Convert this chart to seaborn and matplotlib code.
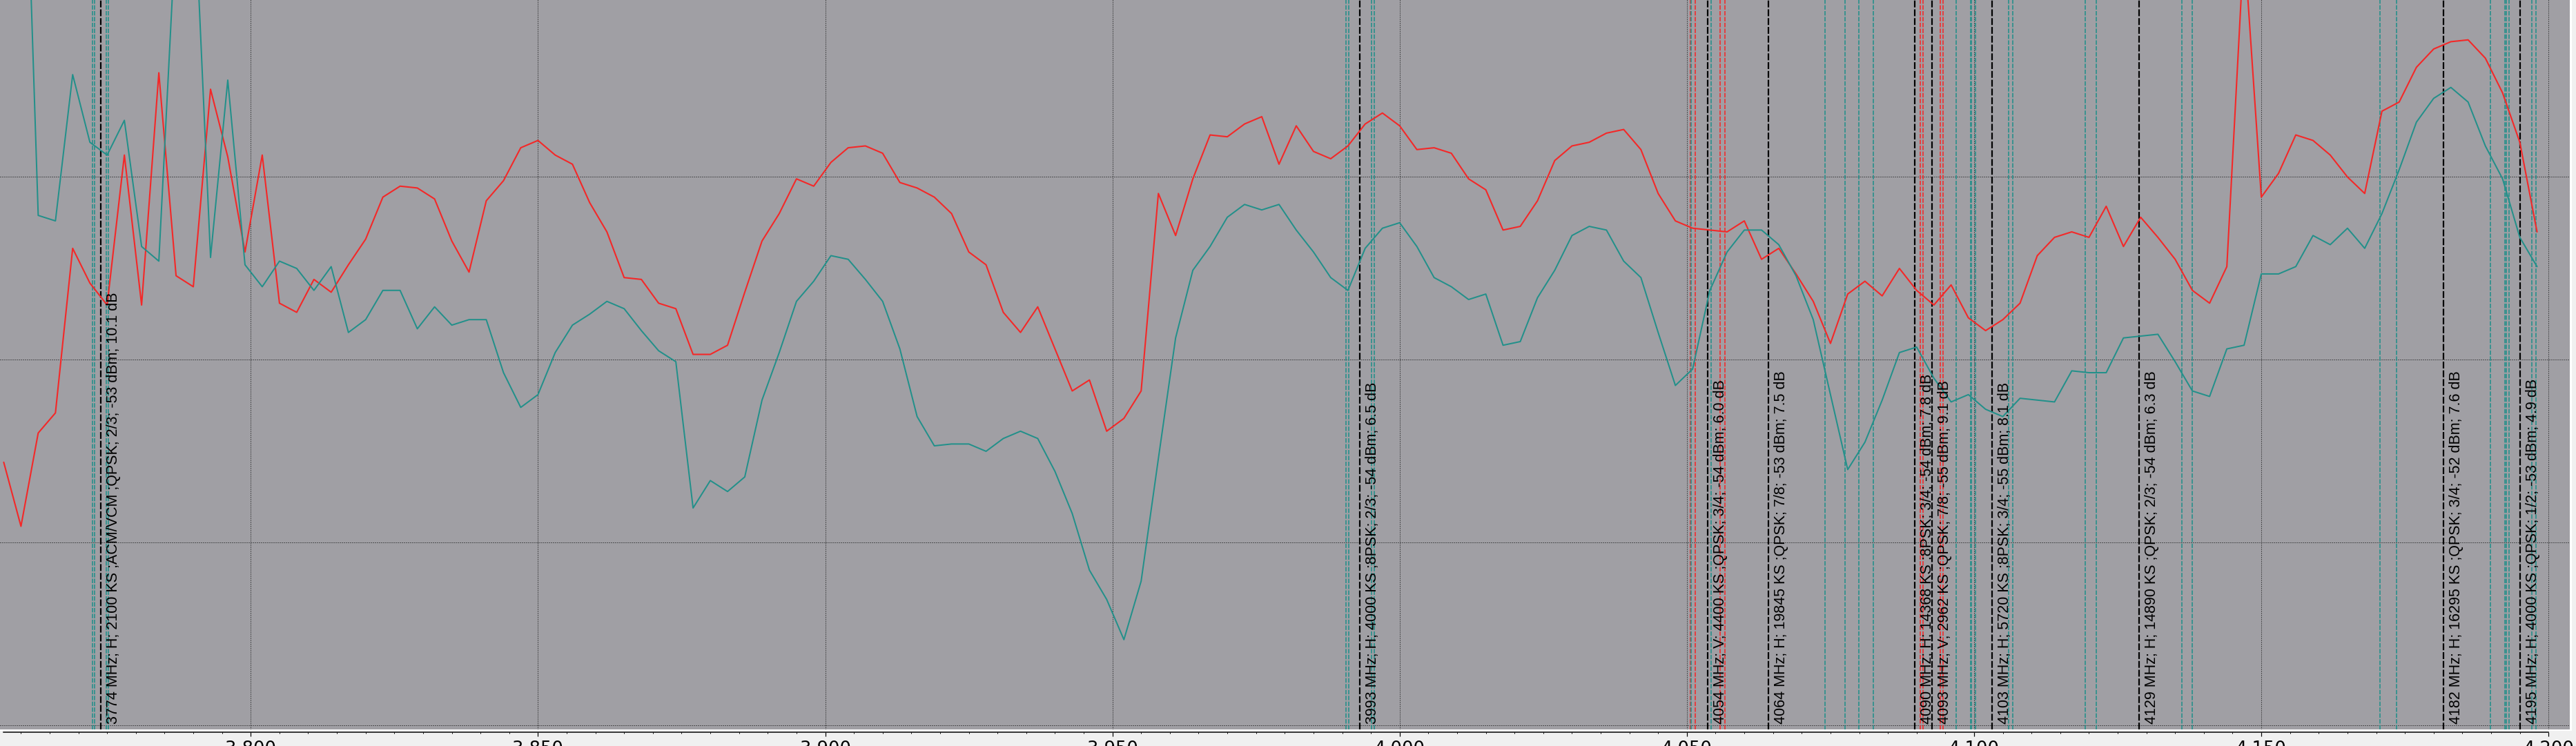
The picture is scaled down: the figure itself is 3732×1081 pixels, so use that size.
import numpy as np
import pandas as pd
import matplotlib
matplotlib.use("Agg")
import matplotlib.pyplot as plt
from matplotlib.patches import Rectangle
from matplotlib.ticker import MultipleLocator, FuncFormatter
import seaborn as sns

# ---------------- data ----------------
# sweep grid (MHz), one sample every 3 MHz
freq_mhz = np.arange(3757, 4199, 3)

# trace 1 (red), dBm
red_dbm = [
    -65.6, -69.1, -64.0, -62.9, -53.9, -55.8, -57.0, -48.8, -57.0, -44.3,
    -55.4, -56.0, -45.2, -48.9, -54.1, -48.8, -56.9, -57.4, -55.6, -56.3,
    -54.8, -53.4, -51.1, -50.5, -50.6, -51.2, -53.5, -55.2, -51.3, -50.2,
    -48.4, -48.0, -48.8, -49.3, -51.4, -53.0, -55.5, -55.6, -56.9, -57.2,
    -59.7, -59.7, -59.2, -56.3, -53.5, -52.0, -50.1, -50.5, -49.2, -48.4,
    -48.3, -48.7, -50.3, -50.6, -51.1, -52.0, -54.1, -54.8, -57.4, -58.5,
    -57.1, -59.4, -61.7, -61.1, -63.9, -63.2, -61.7, -50.9, -53.2, -50.1,
    -47.7, -47.8, -47.1, -46.7, -49.3, -47.2, -48.6, -49.0, -48.3, -47.1,
    -46.5, -47.2, -48.5, -48.4, -48.7, -50.1, -50.7, -52.9, -52.7, -51.3,
    -49.1, -48.3, -48.1, -47.6, -47.4, -48.5, -50.9, -52.4, -52.8, -52.9,
    -53.0, -52.4, -54.5, -53.9, -55.3, -56.8, -59.1, -56.4, -55.7, -56.5,
    -55.0, -56.2, -57.0, -55.9, -57.7, -58.4, -57.8, -56.9, -54.3, -53.3,
    -53.0, -53.3, -51.6, -53.8, -52.2, -53.3, -54.5, -56.2, -56.9, -54.9,
    -37.2, -51.1, -49.8, -47.7, -48.0, -48.8, -50.0, -50.9, -46.4, -45.9,
    -44.0, -43.0, -42.6, -42.5, -43.5, -45.4, -48.1, -53.0,
]

# trace 2 (teal), dBm
teal_dbm = [
    -28.0, -23.0, -52.1, -52.4, -44.4, -48.1, -48.8, -46.9, -53.8, -54.6,
    -36.1, -33.3, -54.4, -44.7, -54.8, -56.0, -54.6, -55.0, -56.2, -54.9,
    -58.5, -57.8, -56.2, -56.2, -58.3, -57.1, -58.1, -57.8, -57.8, -60.7,
    -62.6, -61.9, -59.6, -58.1, -57.5, -56.8, -57.2, -58.4, -59.5, -60.1,
    -68.1, -66.6, -67.2, -66.4, -62.2, -59.6, -56.8, -55.7, -54.3, -54.5,
    -55.6, -56.8, -59.4, -63.1, -64.7, -64.6, -64.6, -65.0, -64.3, -63.9,
    -64.3, -66.1, -68.4, -71.5, -73.1, -75.3, -72.1, -65.4, -58.8, -55.1,
    -53.8, -52.2, -51.5, -51.8, -51.5, -52.9, -54.1, -55.5, -56.2, -53.9,
    -52.8, -52.5, -53.8, -55.5, -56.0, -56.7, -56.4, -59.2, -59.0, -56.6,
    -55.1, -53.2, -52.7, -52.9, -54.6, -55.5, -58.5, -61.4, -60.5, -56.2,
    -54.1, -52.9, -52.9, -53.7, -55.4, -57.8, -61.9, -66.0, -64.5, -62.2,
    -59.6, -59.3, -61.0, -62.3, -61.9, -62.7, -63.1, -62.1, -62.2, -62.3,
    -60.6, -60.7, -60.7, -58.8, -58.7, -58.6, -60.1, -61.7, -62.0, -59.4,
    -59.2, -55.3, -55.3, -54.9, -53.2, -53.7, -52.8, -53.9, -52.0, -49.6,
    -47.0, -45.7, -45.1, -45.9, -48.3, -50.1, -53.3, -54.9,
]

# detected carriers
sig_freq = [3774, 3993, 4054, 4064, 4090, 4093, 4103, 4129, 4182, 4195]
sig_center = [3773.85, 3993.1, 4053.6, 4064.15, 4089.65, 4092.65, 4103.1, 4128.7, 4181.7, 4195.1]
sig_pol = ["H", "H", "V", "H", "H", "V", "H", "H", "H", "H"]
sig_sr_ks = [2100, 4000, 4400, 19845, 14368, 2962, 5720, 14890, 16295, 4000]
sig_mod = ["ACM/VCM ;QPSK", "8PSK", "QPSK", "QPSK", "8PSK", "QPSK", "8PSK", "QPSK", "QPSK", "QPSK"]
sig_fec = ["2/3", "2/3", "3/4", "7/8", "3/4", "7/8", "3/4", "2/3", "3/4", "1/2"]
sig_pwr = [-53, -54, -54, -53, -54, -55, -55, -54, -52, -53]
sig_cn = [10.1, 6.5, 6.0, 7.5, 7.8, 9.1, 8.1, 6.3, 7.6, 4.9]
sig_rolloff = [0.35, 0.25, 0.35, 0.35, 0.35, 0.35, 0.25, 0.25, 0.35, 0.35]

# ---------------- style ----------------
sns.set_style("ticks")
plt.rcParams["font.family"] = ["DejaVu Sans"]

W, H = 3732, 1081
DPI = 100
PX = 72.0 / DPI  # points per pixel

BG = "#a09fa4"
OUT = "#f0f0f0"
RED = "#f42828"
TEAL = "#22908a"

fig = plt.figure(figsize=(W / DPI, H / DPI), dpi=DPI, facecolor=OUT)
ax_w = 3723 / W
ax_h = 1057 / H
ax = fig.add_axes([0, 1 - ax_h, ax_w, ax_h])
ax.set_facecolor(BG)

# white separators around plot area
fig.add_artist(Rectangle((ax_w, 1 - ax_h - 2 / H), 3 / W, ax_h + 2 / H,
                         transform=fig.transFigure, color="white", lw=0, zorder=0))
fig.add_artist(Rectangle((0, 1 - ax_h - 2 / H), ax_w + 3 / W, 2 / H,
                         transform=fig.transFigure, color="white", lw=0, zorder=0))

# traces
df = pd.DataFrame({"freq": freq_mhz, "red": red_dbm, "teal": teal_dbm})
sns.lineplot(data=df, x="freq", y="red", color=RED, linewidth=2.0 * PX * 1.05,
             ax=ax, zorder=4, legend=False)
sns.lineplot(data=df, x="freq", y="teal", color=TEAL, linewidth=2.0 * PX,
             ax=ax, zorder=4, legend=False)

# carrier markers
for c, pol, sr, a in zip(sig_center, sig_pol, sig_sr_ks, sig_rolloff):
    col = TEAL if pol == "H" else RED
    half = sr / 2000.0
    for e in (c - half * (1 + a), c - half, c + half, c + half * (1 + a)):
        ax.axvline(e, color=col, linewidth=1.6 * PX, linestyle=(0, (4, 1.3)), zorder=2)
    ax.axvline(c, color="black", linewidth=2.2 * PX, linestyle=(0, (4.5, 1.3)), zorder=3)

for f, c, pol, sr, mod, fec, p, cn in zip(sig_freq, sig_center, sig_pol, sig_sr_ks,
                                          sig_mod, sig_fec, sig_pwr, sig_cn):
    txt = f"{f} MHz; {pol}; {sr} KS ;{mod}; {fec}; {p} dBm; {cn:.1f} dB"
    ax.text(c + 0.95, -79.92, txt, rotation=90, ha="left", va="bottom",
            fontsize=15.5, family=["Liberation Sans", "DejaVu Sans"],
            color="black", zorder=6)

# axes limits & grid
ax.set_xlim(3756.35, 4203.7)
ax.set_ylim(-80.21, -40.32)
ax.xaxis.set_major_locator(MultipleLocator(50))
ax.xaxis.set_minor_locator(MultipleLocator(5))
ax.yaxis.set_major_locator(MultipleLocator(10))
ax.xaxis.set_major_formatter(FuncFormatter(lambda v, p: f"{int(round(v)):,}"))
ax.set_axisbelow(True)
ax.grid(True, which="major", axis="both", color="black",
        linestyle=(0, (1, 2)), linewidth=1.0 * PX, zorder=1)

for s in ("top", "left", "right"):
    ax.spines[s].set_visible(False)
ax.spines["bottom"].set_position(("outward", 4 * PX))
ax.spines["bottom"].set_bounds(3757, 4200)
ax.spines["bottom"].set_linewidth(1.5 * PX)
ax.spines["bottom"].set_color("black")

ax.tick_params(axis="y", left=False, labelleft=False)
ax.tick_params(axis="x", which="major", length=6 * PX, width=1.2 * PX,
               color="black", pad=6 * PX, labelsize=18.5, labelcolor="black")
ax.tick_params(axis="x", which="minor", length=2.5 * PX, width=1.0 * PX, color="black")
ax.set_xlabel("")
ax.set_ylabel("")

fig.savefig("out.png", dpi=DPI, facecolor=OUT)
